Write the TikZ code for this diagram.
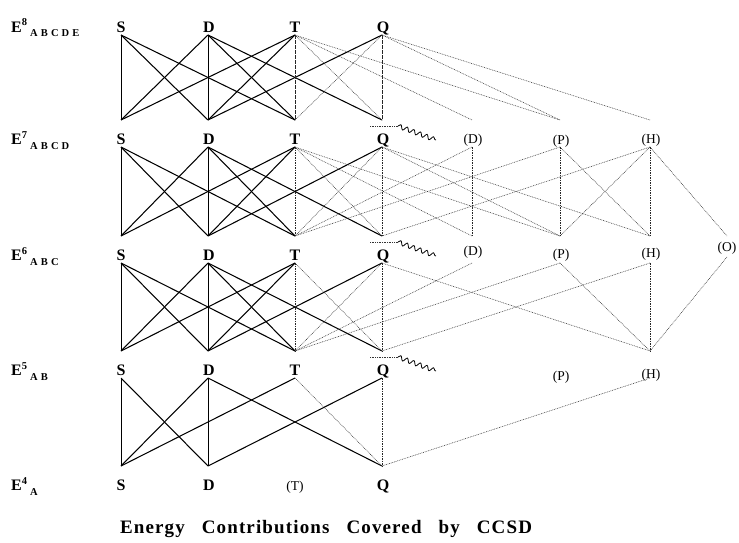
\documentclass[tikz,border=0pt]{standalone}
\usepackage{fontspec}
\setmainfont{Liberation Serif}
\newfontfamily\subfont[LetterSpace=30]{Liberation Serif}
\newfontfamily\capfont[LetterSpace=6]{Liberation Serif}
\usetikzlibrary{decorations.pathmorphing}
\tikzset{
 lab/.style={font=\bfseries\fontsize{16}{16}\selectfont, inner sep=0pt, anchor=base},
 plab/.style={font=\fontsize{13.5}{13.5}\selectfont, inner sep=0pt, anchor=base},
 elab/.style={font=\bfseries\fontsize{16}{16}\selectfont, inner sep=0pt, anchor=base west},
 sl/.style={line width=1.05pt, black},
 dl/.style={line width=0.55pt, black!80, dash pattern=on 0.8pt off 0.9pt},
 vs/.style={line width=0.8pt, black},
 vd/.style={line width=0.65pt, black!85, dash pattern=on 1.6pt off 0.9pt},
 wave/.style={decorate, decoration={snake, amplitude=2.2pt, segment length=7pt}, line width=0.8pt},
}
\newcommand\elabel[2]{E\raisebox{6.5pt}{\fontsize{10.5}{10.5}\selectfont #1}\hspace{3pt}\raisebox{-4.5pt}{\subfont\bfseries\fontsize{10.5}{10.5}\selectfont #2}}
\begin{document}
\begin{tikzpicture}[x=1pt,y=-1pt]
\useasboundingbox (0,0) rectangle (739,543);
% points: u = above label (bottom of band above), d = below label (top of band below)
\foreach \r/\L in {8/27,7/139,6/255,5/370,4/485} {
  \foreach \c/\x in {S/121,D/208,T/295,Q/382,pD/472,pP/560,pH/650,pO/727} {
    \coordinate (\c\r u) at (\x,\L-19);
    \coordinate (\c\r d) at (\x,\L+8);
  }
}
\coordinate (pO6d) at (727,257);
% left labels
\node[elab] (E8) at (11,32.5) {\elabel{8}{ABCDE}};
\node[elab] (E7) at (11,144.5) {\elabel{7}{ABCD}};
\node[elab] (E6) at (11,260.5) {\elabel{6}{ABC}};
\node[elab] (E5) at (11,375.5) {\elabel{5}{AB}};
\node[elab] (E4) at (11,490.5) {\elabel{4}{A}};
% row labels
\foreach \r/\L in {8/27,7/139,6/255,5/370} {
  \node[lab] (lS\r) at (121,\L+5.5) {S};
  \node[lab] (lD\r) at (209,\L+5.5) {D};
  \node[lab] (lT\r) at (295,\L+5.5) {T};
  \node[lab] (lQ\r) at (383,\L+5.5) {Q};
}
\node[lab] (lS4) at (121,490.5) {S};
\node[lab] (lD4) at (209,490.5) {D};
\node[plab] (lT4) at (295,490) {(T)};
\node[lab] (lQ4) at (383,490.5) {Q};
\node[plab] (lpD7) at (473,143) {(D)};
\node[plab] (lpP7) at (561,144) {(P)};
\node[plab] (lpH7) at (651,143) {(H)};
\node[plab] (lpD6) at (473,255) {(D)};
\node[plab] (lpP6) at (561,258) {(P)};
\node[plab] (lpH6) at (651,257) {(H)};
\node[plab] (lpO6) at (727,251) {(O)};
\node[plab] (lpP5) at (561,380) {(P)};
\node[plab] (lpH5) at (651,378) {(H)};
% caption
\node[font=\capfont\bfseries\fontsize{19}{19}\selectfont, inner sep=0pt] (cap) at (326,529) {\makebox[412pt][s]{Energy Contributions Covered by CCSD}};
% bands 8,7,6 core
\foreach \t/\b in {8/7,7/6,6/5} {
  \foreach \p/\q in {S/S,D/D} \draw[vs] (\p\t d) -- (\q\b u);
  \foreach \p/\q in {S/D,S/T,D/S,D/T,D/Q,T/S,T/D,Q/D} \draw[sl] (\p\t d) -- (\q\b u);
  \foreach \p/\q in {T/T,Q/Q} \draw[vd] (\p\t d) -- (\q\b u);
  \foreach \p/\q in {T/Q,Q/T} \draw[dl] (\p\t d) -- (\q\b u);
}
% band 8 extras
\foreach \p/\q in {T/pD,T/pP,Q/pP,Q/pH} \draw[dl] (\p8d) -- (\q7u);
% band 7 extras
\foreach \p/\q in {T/pD,T/pP,Q/pP,Q/pH,pD/T,pP/T,pH/Q,pP/pH,pH/pP,pH/pO} \draw[dl] (\p7d) -- (\q6u);
\foreach \p in {pD,pP,pH} \draw[vd] (\p7d) -- (\p6u);
% band 6 extras
\foreach \p/\q in {pD/T,pP/T,pH/Q,Q/pH,pP/pH,pO/pH} \draw[dl] (\p6d) -- (\q5u);
\draw[vd] (pH6d) -- (pH5u);
% band 5
\foreach \p/\q in {S/S,D/D} \draw[vs] (\p5d) -- (\q4u);
\foreach \p/\q in {S/D,D/S,D/Q,T/S,Q/D} \draw[sl] (\p5d) -- (\q4u);
\draw[vd] (Q5d) -- (Q4u);
\draw[dl] (T5d) -- (Q4u);
\draw[dl] (pH5d) -- (Q4u);
% dotted bars and wavy lines near Q
\foreach \r/\L in {7/139,6/255,5/370} {
  \coordinate (ha\r) at (370,\L-13);
  \coordinate (hb\r) at (398,\L-13);
  \coordinate (we\r) at (436,\L+1);
  \draw[dl] (ha\r) -- (hb\r);
  \draw[wave] (hb\r) -- (we\r);
}
\end{tikzpicture}
\end{document}
